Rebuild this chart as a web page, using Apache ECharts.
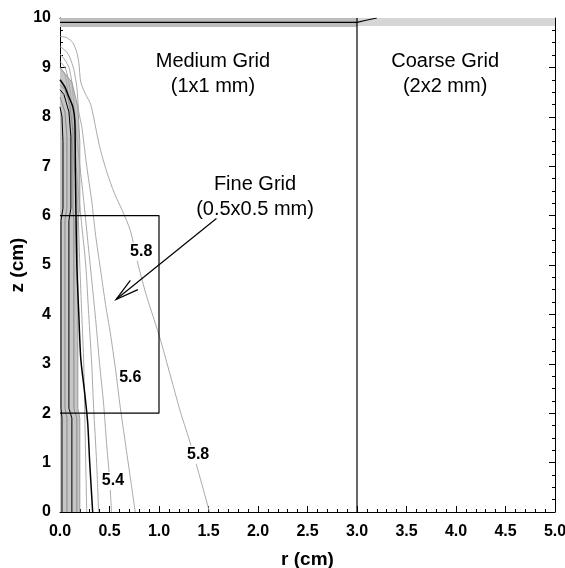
<!DOCTYPE html>
<html>
<head>
<meta charset="utf-8">
<script src="https://cdn.jsdelivr.net/npm/echarts@6/dist/echarts.min.js"></script>
<style>
  html, body { margin: 0; padding: 0; background: #fff; }
  #chart { width: 565px; height: 568px; }
</style>
</head>
<body>
<div id="chart"></div>
<script>
// Axis ranges
const rRange = [0, 5];
const zRange = [0, 10];

// Iso-lines outside the shaded core, [r (cm), z (cm)]
const grayLine1 = [[0.0,9.63],[0.07,9.6],[0.13,9.5],[0.17,9.3],[0.19,9.1],[0.21,8.7],[0.26,8.45],[0.31,8.25],[0.40,7.4],[0.47,6.9],[0.55,6.45],[0.63,6.1],[0.71,5.7],[0.79,5.0],[0.87,4.4],[0.95,3.9],[1.02,3.45],[1.13,2.65],[1.22,2.0],[1.30,1.5],[1.40,0.8],[1.51,0]];
const grayLine2 = [[0.0,9.42],[0.06,9.33],[0.10,9.2],[0.14,8.95],[0.17,8.6],[0.19,8.1],[0.22,7.8],[0.27,7.0],[0.32,6.3],[0.36,5.6],[0.41,4.9],[0.46,4.2],[0.51,3.6],[0.56,2.9],[0.61,2.1],[0.66,1.4],[0.71,0.7],[0.76,0]];
const grayLine3 = [[0.0,9.27],[0.05,9.15],[0.09,9.0],[0.12,8.7],[0.14,8.3],[0.16,7.8],[0.19,7.2],[0.24,6.3],[0.28,5.5],[0.32,4.7],[0.36,3.9],[0.40,3.0],[0.44,2.2],[0.47,1.4],[0.50,0.7],[0.52,0]];
const grayLine4 = [[0.0,9.12],[0.05,9.0],[0.08,8.8],[0.11,8.4],[0.13,7.9],[0.15,7.4],[0.18,6.6],[0.22,5.8],[0.26,5.0],[0.29,4.0],[0.32,3.0],[0.34,2.1],[0.37,1.0],[0.39,0]];
const grayLine5 = [[0.0,9.0],[0.05,8.85],[0.08,8.5],[0.10,8.0],[0.12,7.5],[0.15,6.9],[0.18,6.2],[0.20,5.0],[0.22,4.0],[0.24,3.0],[0.25,2.0],[0.26,1.0],[0.27,0]];
const blackLine = [[0.0,8.75],[0.05,8.6],[0.09,8.4],[0.13,8.2],[0.15,7.9],[0.155,7.0],[0.16,6.2],[0.17,5.0],[0.19,4.0],[0.21,3.1],[0.25,2.4],[0.28,1.8],[0.30,1.0],[0.33,0]];

// Iso-lines inside the shaded core (they jog at the fine-grid edges z = 2 and z = 6)
const coreBlack1 = [[0.02,0],[0.02,1.9],[0.01,2.1],[0.01,5.9],[0.03,6.15],[0.03,7.5],[0.02,8.0],[0.0,8.2]];
const coreGray1  = [[0.07,0],[0.07,1.9],[0.05,2.1],[0.05,5.9],[0.07,6.15],[0.07,7.6],[0.05,8.1],[0.0,8.4]];
const coreBlack2 = [[0.12,0],[0.12,1.9],[0.09,2.1],[0.09,5.9],[0.11,6.15],[0.11,7.6],[0.09,8.1],[0.04,8.45],[0.0,8.55]];
const coreGray2  = [[0.17,0],[0.17,1.9],[0.14,2.1],[0.14,5.9],[0.13,6.15],[0.13,7.7],[0.10,8.25],[0.05,8.55],[0.0,8.65]];
const coreEdge   = [[0.20,0],[0.20,1.9],[0.18,2.1],[0.18,5.9],[0.20,6.15],[0.20,7.5],[0.18,8.2],[0.12,8.7],[0.0,9.0]];

// Shaded core region outline
const coreFill = [[0,0]].concat(coreEdge);

// Heated layer along the top
const topBandMedium = [[0,9.82],[3,9.82],[3,10],[0,10]];
const topBandCoarse = [[3,9.84],[5,9.84],[5,10],[3,10]];
const topBlackLine = [[0,9.91],[3.0,9.91],[3.08,9.95],[3.2,10]];

// Fine-grid box and grid boundary
const fineBox = [[0,2],[1,2],[1,6],[0,6]];
const gridBoundary = [[3,0],[3,10]];

// Pointer from the fine-grid caption: [tail r, tail z, head r, head z]
const pointer = [[1.58,5.94,0.566,4.30]];

// Contour level labels
const levelLabels = [
  { name: '5.8', value: [0.82, 5.27] },
  { name: '5.6', value: [0.71, 2.72] },
  { name: '5.4', value: [0.535, 0.63] },
  { name: '5.8', value: [1.395, 1.16] }
];

// Region captions
const captions = [
  { name: 'Medium Grid\n(1x1 mm)', value: [1.545, 8.87] },
  { name: 'Coarse Grid\n(2x2 mm)', value: [3.89, 8.87] },
  { name: 'Fine Grid\n(0.5x0.5 mm)', value: [1.97, 6.37] }
];

const FONT = '"Liberation Sans", Arial, Helvetica, sans-serif';
const LIGHT = '#a9a9a9';

function polygonSeries(points, color, z) {
  return {
    type: 'custom', coordinateSystem: 'cartesian2d', silent: true, z: z,
    data: [[0, 0]],
    renderItem: (params, api) => ({
      type: 'polygon',
      shape: { points: points.map(p => api.coord(p)) },
      style: { fill: color }
    })
  };
}

function lineSeries(points, color, width, smooth, z) {
  return {
    type: 'line', data: points, symbol: 'none', showSymbol: false,
    smooth: smooth ? 0.25 : false, silent: true, z: z || 3,
    lineStyle: { color: color, width: width }
  };
}

function textSeries(items, labelStyle) {
  return {
    type: 'scatter', symbolSize: 0, silent: true, z: 7,
    itemStyle: { opacity: 1 },
    data: items,
    label: Object.assign({ show: true, position: 'inside', formatter: '{b}', opacity: 1, fontFamily: FONT, color: '#000' }, labelStyle)
  };
}

const chart = echarts.init(document.getElementById('chart'), null, { renderer: 'canvas' });

const boxAxisCommon = {
  axisLine: { show: true, onZero: false, lineStyle: { color: '#000', width: 1 } },
  axisTick: { show: true, inside: true, length: 6, lineStyle: { color: '#000' } },
  splitLine: { show: false }
};

chart.setOption({
  animation: false,
  backgroundColor: '#fff',
  grid: { left: 60, right: 10, top: 18, bottom: 56, containLabel: false, outerBoundsMode: 'none' },
  xAxis: [
    Object.assign({
      type: 'value', min: rRange[0], max: rRange[1], interval: 0.5, position: 'bottom',
      minorTick: { show: true, splitNumber: 5, length: 3, lineStyle: { color: '#000' } },
      axisLabel: { formatter: v => v.toFixed(1), color: '#000', fontWeight: 'bold', fontSize: 16, margin: 12, fontFamily: FONT, showMaxLabel: true, showMinLabel: true },
      name: 'r (cm)', nameLocation: 'middle', nameGap: 38,
      nameTextStyle: { color: '#000', fontWeight: 'bold', fontSize: 19, fontFamily: FONT }
    }, boxAxisCommon),
    Object.assign({
      type: 'value', min: rRange[0], max: rRange[1], interval: 0.5, position: 'top',
      minorTick: { show: true, splitNumber: 5, length: 3, lineStyle: { color: '#000' } },
      axisLabel: { show: false }
    }, boxAxisCommon)
  ],
  yAxis: [
    Object.assign({
      type: 'value', min: zRange[0], max: zRange[1], interval: 1, position: 'left',
      minorTick: { show: true, splitNumber: 4, length: 3, lineStyle: { color: '#000' } },
      axisLabel: { color: '#000', fontWeight: 'bold', fontSize: 16, margin: 9, fontFamily: FONT, showMaxLabel: true, showMinLabel: true },
      name: 'z (cm)', nameLocation: 'middle', nameGap: 33, nameRotate: 90, nameMoveOverlap: false,
      nameTextStyle: { color: '#000', fontWeight: 'bold', fontSize: 19, fontFamily: FONT }
    }, boxAxisCommon),
    Object.assign({
      type: 'value', min: zRange[0], max: zRange[1], interval: 1, position: 'right',
      minorTick: { show: true, splitNumber: 4, length: 3, lineStyle: { color: '#000' } },
      axisLabel: { show: false }
    }, boxAxisCommon)
  ],
  series: [
    polygonSeries(coreFill, '#c6c6c6', 1),
    polygonSeries(topBandMedium, '#bdbdbd', 1),
    polygonSeries(topBandCoarse, '#d6d6d6', 1),
    lineSeries(topBlackLine, '#000', 1.2, false, 4),

    lineSeries(grayLine1, LIGHT, 1, true),
    lineSeries(grayLine2, LIGHT, 1, true),
    lineSeries(grayLine3, LIGHT, 1, true),
    lineSeries(grayLine4, LIGHT, 1, true),
    lineSeries(grayLine5, LIGHT, 1, true),
    lineSeries(coreEdge, '#9a9a9a', 1, false),
    lineSeries(coreGray1, '#8a8a8a', 1, false),
    lineSeries(coreGray2, '#8a8a8a', 1, false),
    lineSeries(coreBlack1, '#000', 1, false, 4),
    lineSeries(coreBlack2, '#000', 1, false, 4),
    lineSeries(blackLine, '#000', 1.5, true, 4),

    lineSeries(fineBox, '#000', 1.2, false, 5),
    lineSeries(gridBoundary, '#000', 1.2, false, 5),

    {
      type: 'custom', coordinateSystem: 'cartesian2d', silent: true, z: 6,
      data: pointer,
      renderItem: (params, api) => {
        const tail = api.coord([api.value(0), api.value(1)]);
        const head = api.coord([api.value(2), api.value(3)]);
        const ang = Math.atan2(tail[1] - head[1], tail[0] - head[0]);
        const len = 24, spread = 14.5 * Math.PI / 180;
        const b1 = [head[0] + len * Math.cos(ang - spread), head[1] + len * Math.sin(ang - spread)];
        const b2 = [head[0] + len * Math.cos(ang + spread), head[1] + len * Math.sin(ang + spread)];
        const st = { stroke: '#000', lineWidth: 1.2, fill: null };
        return {
          type: 'group',
          children: [
            { type: 'line', shape: { x1: tail[0], y1: tail[1], x2: head[0], y2: head[1] }, style: st },
            { type: 'polyline', shape: { points: [b1, head, b2] }, style: st }
          ]
        };
      }
    },

    textSeries(levelLabels, { fontWeight: 'bold', fontSize: 16, backgroundColor: '#fff', padding: [1, 1] }),
    textSeries(captions, { fontSize: 20, lineHeight: 25, align: 'center' })
  ]
});
</script>
</body>
</html>
